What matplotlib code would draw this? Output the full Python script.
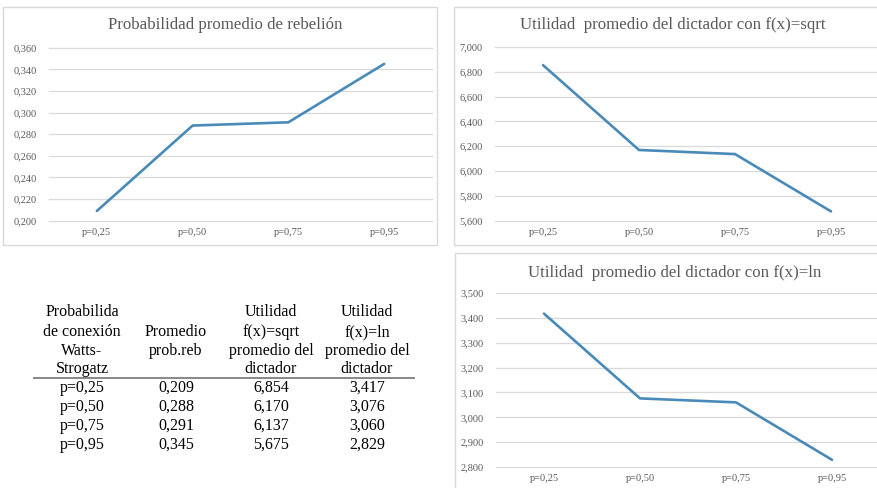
import matplotlib
matplotlib.use("Agg")
import matplotlib.pyplot as plt
from matplotlib.patches import Rectangle
from matplotlib.lines import Line2D
from matplotlib.ticker import FuncFormatter

plt.rcParams['font.family'] = ['Liberation Serif', 'DejaVu Serif']

# datos
categorias = ['p=0,25', 'p=0,50', 'p=0,75', 'p=0,95']
prob_rebelion = [0.209, 0.288, 0.291, 0.345]
util_sqrt = [6.854, 6.170, 6.137, 5.675]
util_ln = [3.417, 3.076, 3.060, 2.829]

titulos = ['Probabilidad promedio de rebelión',
           'Utilidad  promedio del dictador con f(x)=sqrt',
           'Utilidad  promedio del dictador con f(x)=ln']

enc_tabla = [['Probabilida', 'de conexión', 'Watts-', 'Strogatz'],
             ['', 'Promedio', 'prob.reb', ''],
             ['Utilidad', 'f(x)=sqrt', 'promedio del', 'dictador'],
             ['Utilidad', 'f(x)=ln', 'promedio del', 'dictador']]

W, H = 878, 488
fig = plt.figure(figsize=(W / 100, H / 100), dpi=100)

azul = '#4A8AB8'
gris_txt = '#595959'
gris_grid = '#D9D9D9'


def fx(px):
    return px / W


def fy(py):
    return 1 - py / H


def coma(v, pos):
    return ('%.3f' % v).replace('.', ',')


def panel(box, ax_box, valores, ylim, paso, titulo, tpos):
    x0, y0, x1, y1 = box
    fig.patches.append(Rectangle((fx(x0), fy(y1)), fx(x1 - x0), (y1 - y0) / H,
                                 transform=fig.transFigure, fill=False,
                                 edgecolor=gris_grid, linewidth=1.0))
    l, t, r, b = ax_box
    ax = fig.add_axes([fx(l), fy(b), fx(r - l), (b - t) / H])
    ax.plot(range(len(categorias)), valores, color=azul, linewidth=1.9,
            solid_capstyle='round', zorder=3)
    ax.set_xlim(-0.5, len(categorias) - 0.5)
    ax.set_ylim(*ylim)
    n = int(round((ylim[1] - ylim[0]) / paso))
    ax.set_yticks([ylim[0] + i * paso for i in range(n + 1)])
    ax.yaxis.set_major_formatter(FuncFormatter(coma))
    ax.set_xticks(range(len(categorias)))
    ax.set_xticklabels(categorias)
    ax.tick_params(length=0, labelsize=7.5, labelcolor=gris_txt)
    ax.tick_params(axis='y', pad=9)
    ax.tick_params(axis='x', pad=5)
    ax.grid(axis='y', color=gris_grid, linewidth=0.9)
    for gl in ax.get_ygridlines():
        gl.set_clip_on(False)
    ax.set_axisbelow(True)
    for s in ax.spines.values():
        s.set_visible(False)
    fig.text(fx(tpos[0]), fy(tpos[1]), titulo, ha='center', va='center',
             fontsize=12.2, color=gris_txt)
    return ax


panel((3, 7, 437, 245), (49, 47.7, 432, 220.7), prob_rebelion, (0.2, 0.36), 0.02,
      titulos[0], (225, 25))
panel((454, 7, 890, 245), (495, 47, 879, 220.7), util_sqrt, (5.6, 7.0), 0.2,
      titulos[1], (673, 25))
panel((455, 253, 890, 500), (496, 293, 880, 467), util_ln, (2.8, 3.5), 0.1,
      titulos[2], (675, 273))

# tabla
col_x = [82, 176, 271, 367]
enc_y = [312, 332, 351, 369]
fil_y = [388, 407, 426, 445]
filas = [[categorias[i], coma(prob_rebelion[i], 0), coma(util_sqrt[i], 0),
          coma(util_ln[i], 0)] for i in range(len(categorias))]

for c, lineas in enumerate(enc_tabla):
    for k, txt in enumerate(lineas):
        if txt:
            fig.text(fx(col_x[c]), fy(enc_y[k]), txt, ha='center', va='center',
                     fontsize=11.5, color='black')

fig.lines.append(Line2D([fx(34), fx(414)], [fy(377.5), fy(377.5)],
                        transform=fig.transFigure, color='#7F7F7F', linewidth=1.3))

for r, fila in enumerate(filas):
    for c, txt in enumerate(fila):
        fig.text(fx(col_x[c]), fy(fil_y[r]), txt, ha='center', va='center',
                 fontsize=11.5, color='black')

fig.savefig('out.png', dpi=100)
